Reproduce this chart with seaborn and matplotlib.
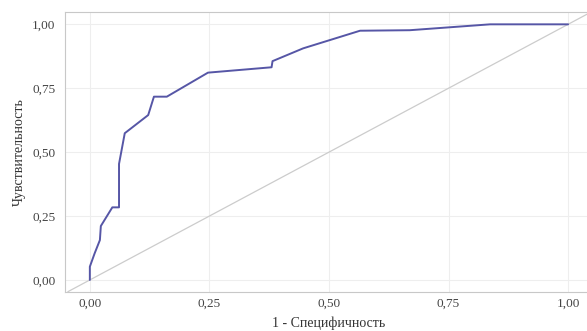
import matplotlib
matplotlib.use("Agg")
import matplotlib.pyplot as plt
import seaborn as sns
import pandas as pd

# ROC curve: false positive rate (1 - specificity) vs true positive rate
fpr = [0.000, 0.000, 0.010, 0.021, 0.023, 0.047, 0.061, 0.061, 0.073, 0.122,
       0.134, 0.161, 0.247, 0.380, 0.382, 0.446, 0.565, 0.669, 0.837, 1.000]
tpr = [0.000, 0.052, 0.104, 0.156, 0.211, 0.284, 0.284, 0.454, 0.574, 0.645,
       0.717, 0.717, 0.811, 0.832, 0.856, 0.906, 0.975, 0.977, 1.000, 1.000]

tick_values = [0.00, 0.25, 0.50, 0.75, 1.00]
tick_labels = ["0,00", "0,25", "0,50", "0,75", "1,00"]

x_title = "1 - Специфичность"
y_title = "Чувствительность"

df = pd.DataFrame({"fpr": fpr, "tpr": tpr})

sns.set_style("whitegrid", {
    "grid.color": "#eeeeee",
    "axes.edgecolor": "#c8c8c8",
    "axes.linewidth": 1.0,
})
plt.rcParams["font.family"] = ["Liberation Serif", "DejaVu Serif"]

fig = plt.figure(figsize=(5.87, 3.31), dpi=100)
ax = fig.add_axes([0.1107, 0.1187, 0.8978, 0.8441])

ax.axline((0, 0), (1, 1), color="#cccccc", linewidth=0.9, zorder=1)
sns.lineplot(data=df, x="fpr", y="tpr", sort=False, estimator=None,
             color="#5656a6", linewidth=1.4, ax=ax, zorder=3)

ax.set_xlim(-0.052, 1.05)
ax.set_ylim(-0.046, 1.047)
ax.set_xticks(tick_values)
ax.set_xticklabels(tick_labels)
ax.set_yticks(tick_values)
ax.set_yticklabels(tick_labels)
ax.tick_params(axis="both", labelsize=9.5, colors="#444444", length=0, pad=4)
ax.tick_params(axis="y", length=3, color="#c8c8c8", width=0.8)
ax.set_xlabel(x_title, fontsize=10, color="#333333", labelpad=5)
ax.set_ylabel(y_title, fontsize=10, color="#333333", labelpad=4)
ax.spines["right"].set_visible(False)
ax.grid(True, linewidth=0.8)

fig.savefig("out.png", dpi=100)
